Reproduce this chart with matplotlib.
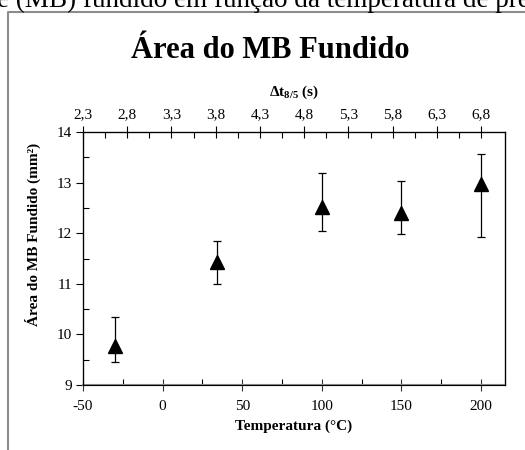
import numpy as np
import matplotlib
matplotlib.use("Agg")
import matplotlib.pyplot as plt
from matplotlib.lines import Line2D

plt.rcParams['font.family'] = 'Liberation Serif'
plt.rcParams['mathtext.fontset'] = 'custom'
plt.rcParams['mathtext.rm'] = 'Liberation Serif'
plt.rcParams['mathtext.bf'] = 'Liberation Serif:bold'
plt.rcParams['axes.unicode_minus'] = False

# dados
temperatura = [-30, 34, 100, 150, 200]
area = [9.77, 11.44, 12.52, 12.39, 12.98]
area_min = [9.46, 11.00, 12.05, 11.98, 11.92]
area_max = [10.35, 11.85, 13.19, 13.04, 13.56]

dt_ticks = [2.3, 2.8, 3.3, 3.8, 4.3, 4.8, 5.3, 5.8, 6.3, 6.8]
dt_labels = ["2,3", "2,8", "3,3", "3,8", "4,3", "4,8", "5,3", "5,8", "6,3", "6,8"]

area = np.array(area)
err_lo = area - np.array(area_min)
err_hi = np.array(area_max) - area

fig = plt.figure(figsize=(5.25, 4.5), dpi=100)
ax = fig.add_axes([83/525, 1-385/450, (505-83)/525, (385-132)/450])

ax.errorbar(temperatura, area, yerr=[err_lo, err_hi], fmt='^', color='black',
            ms=9.5, ecolor='black', elinewidth=0.9, capsize=3, capthick=0.9)

ax.set_xlim(-50, 215)
ax.set_ylim(9, 14)
ax.set_xticks([-50, 0, 50, 100, 150, 200])
ax.set_xticks(np.arange(-25, 215, 50), minor=True)
ax.set_yticks([9, 10, 11, 12, 13, 14])
ax.set_yticks(np.arange(9.5, 14, 1), minor=True)

ax.tick_params(axis='x', which='major', direction='inout', length=9, width=0.8,
               labelsize=11, pad=6, color='#333333')
ax.tick_params(axis='x', which='minor', direction='in', length=4, width=0.8)
ax.tick_params(axis='y', which='major', direction='out', length=5, width=0.8,
               labelsize=11, pad=3)
ax.tick_params(axis='y', which='minor', direction='in', length=4, width=0.8)
ax.spines['bottom'].set_color('#8c8c8c')
ax.spines['bottom'].set_linewidth(1.5)
for s in ['left', 'top', 'right']:
    ax.spines[s].set_linewidth(0.9)

ax.set_xlabel('Temperatura (°C)', fontsize=11, fontweight='bold', labelpad=5)

# eixo superior
ax2 = ax.twiny()
ax2.set_xlim(2.3, 2.3 + (215 + 50) * 0.018)
ax2.set_xticks(dt_ticks)
ax2.set_xticklabels(dt_labels)
ax2.set_xticks(np.arange(2.55, 7.0, 0.5), minor=True)
ax2.tick_params(axis='x', which='major', direction='inout', length=9, width=0.8,
                labelsize=11, pad=3)
ax2.tick_params(axis='x', which='minor', direction='in', length=4, width=0.8)
ax2.set_xlabel(r'Δt$_{\mathbf{8/5}}$ (s)', fontsize=11, fontweight='bold', labelpad=9)

fig.text(33/525, 1-234/450, 'Área do MB Fundido (mm²)', rotation=90,
         fontsize=11, fontweight='bold', ha='center', va='center')

fig.text(270/525, 1-58/450, 'Área do MB Fundido', fontsize=22, fontweight='bold',
         ha='center', va='baseline')

# texto cortado e moldura da pagina
fig.text(-0.005, 1-7/450, 'e (MB) fundido em função da temperatura de pré',
         fontsize=19.5, ha='left', va='baseline')
fig.add_artist(Line2D([8/525, 8/525, 1.0], [0, 1-11.5/450, 1-11.5/450],
                      transform=fig.transFigure, color='#8c8c8c', lw=1.5))

fig.savefig('out.png', dpi=100)
